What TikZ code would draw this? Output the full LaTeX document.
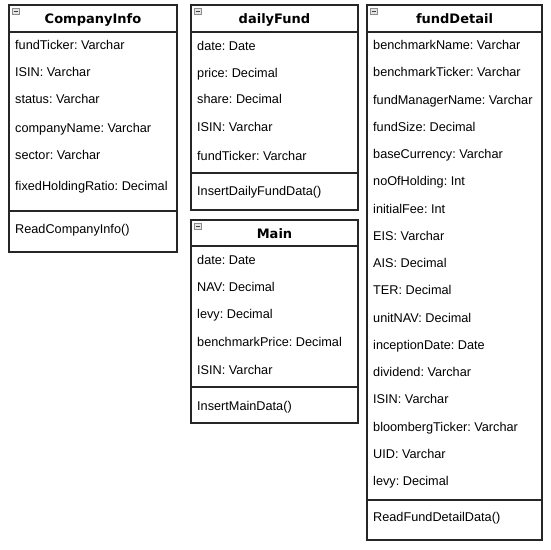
\documentclass[tikz,border=0pt]{standalone}
\usepackage{fontspec}
\setmainfont{Liberation Sans}
\newfontfamily\titlefont{DejaVu Sans}
\frenchspacing
\tikzset{
  classbox/.style={draw=black!85,line width=1.3pt,fill=white,inner sep=0pt},
  rule/.style={draw=black!85,line width=1.3pt},
  attr/.style={anchor=base west,inner sep=0pt,font=\fontsize{12.7}{15}\selectfont},
  ctitle/.style={anchor=base,inner sep=0pt,font=\titlefont\bfseries\fontsize{13}{15}\selectfont},
  minusicon/.style={draw=gray!90,fill=gray!20,line width=0.6pt,minimum width=6.5pt,minimum height=6.5pt,inner sep=0pt},
  minusbar/.style={draw=black!75,line width=1pt}
}
\begin{document}
\begin{tikzpicture}[x=1pt,y=-1pt]
\useasboundingbox (0,0) rectangle (551,549);
% ---------- CompanyInfo
\node[classbox,minimum width=168pt,minimum height=247pt] (ciBox) at (93,128.5) {};
\draw[rule] (9,32) coordinate (ciH1) -- (177,32) coordinate (ciH2);
\draw[rule] (9,211) coordinate (ciS1) -- (177,211) coordinate (ciS2);
\node[minusicon] (ciIcon) at (16,11.5) {};
\draw[minusbar] ([xshift=1.3pt]ciIcon.west) -- ([xshift=-1.3pt]ciIcon.east);
\node[ctitle] (ciT) at (93,23) {CompanyInfo};
\node[attr] (ci1) at (15,49.5) {fundTicker: Varchar};
\node[attr] (ci2) at (15,76.5) {ISIN: Varchar};
\node[attr] (ci3) at (15,103.5) {status: Varchar};
\node[attr] (ci4) at (15,132.5) {companyName: Varchar};
\node[attr] (ci5) at (15,159.5) {sector: Varchar};
\node[attr] (ci6) at (15,190) {fixedHoldingRatio: Decimal};
\node[attr] (ci7) at (15,233.5) {ReadCompanyInfo()};
% ---------- dailyFund
\node[classbox,minimum width=167pt,minimum height=205pt] (dfBox) at (274.5,107.5) {};
\draw[rule] (191,32) coordinate (dfH1) -- (358,32) coordinate (dfH2);
\draw[rule] (191,173) coordinate (dfS1) -- (358,173) coordinate (dfS2);
\node[minusicon] (dfIcon) at (198,11.5) {};
\draw[minusbar] ([xshift=1.3pt]dfIcon.west) -- ([xshift=-1.3pt]dfIcon.east);
\node[ctitle] (dfT) at (274.5,23) {dailyFund};
\node[attr] (df1) at (197,50) {date: Date};
\node[attr] (df2) at (197,77) {price: Decimal};
\node[attr] (df3) at (197,103.5) {share: Decimal};
\node[attr] (df4) at (197,131.5) {ISIN: Varchar};
\node[attr] (df5) at (197,160) {fundTicker: Varchar};
\node[attr] (df6) at (197,195.5) {InsertDailyFundData()};
% ---------- Main
\node[classbox,minimum width=167pt,minimum height=203pt] (mBox) at (274.5,321.5) {};
\draw[rule] (191,246) coordinate (mH1) -- (358,246) coordinate (mH2);
\draw[rule] (191,387) coordinate (mS1) -- (358,387) coordinate (mS2);
\node[minusicon] (mIcon) at (198,226.5) {};
\draw[minusbar] ([xshift=1.3pt]mIcon.west) -- ([xshift=-1.3pt]mIcon.east);
\node[ctitle] (mT) at (274.5,238) {Main};
\node[attr] (m1) at (197,264.5) {date: Date};
\node[attr] (m2) at (197,291.5) {NAV: Decimal};
\node[attr] (m3) at (197,318.5) {levy: Decimal};
\node[attr] (m4) at (197,346.5) {benchmarkPrice: Decimal};
\node[attr] (m5) at (197,374) {ISIN: Varchar};
\node[attr] (m6) at (197,410.5) {InsertMainData()};
% ---------- fundDetail
\node[classbox,minimum width=175pt,minimum height=535pt] (fdBox) at (454.5,272.5) {};
\draw[rule] (367,32) coordinate (fdH1) -- (542,32) coordinate (fdH2);
\draw[rule] (367,500) coordinate (fdS1) -- (542,500) coordinate (fdS2);
\node[minusicon] (fdIcon) at (374,11.5) {};
\draw[minusbar] ([xshift=1.3pt]fdIcon.west) -- ([xshift=-1.3pt]fdIcon.east);
\node[ctitle] (fdT) at (454.5,23) {fundDetail};
\foreach \t [count=\i] in {benchmarkName: Varchar,benchmarkTicker: Varchar,fundManagerName: Varchar,fundSize: Decimal,baseCurrency: Varchar,noOfHolding: Int,initialFee: Int,EIS: Varchar,AIS: Decimal,TER: Decimal,unitNAV: Decimal,inceptionDate: Date,dividend: Varchar,ISIN: Varchar,bloombergTicker: Varchar,UID: Varchar,levy: Decimal}
  \node[attr] (fd\i) at (373,{45+4.5+(\i-1)*27.25}) {\t};
\node[attr] (fd18) at (373,521.5) {ReadFundDetailData()};
\end{tikzpicture}
\end{document}
